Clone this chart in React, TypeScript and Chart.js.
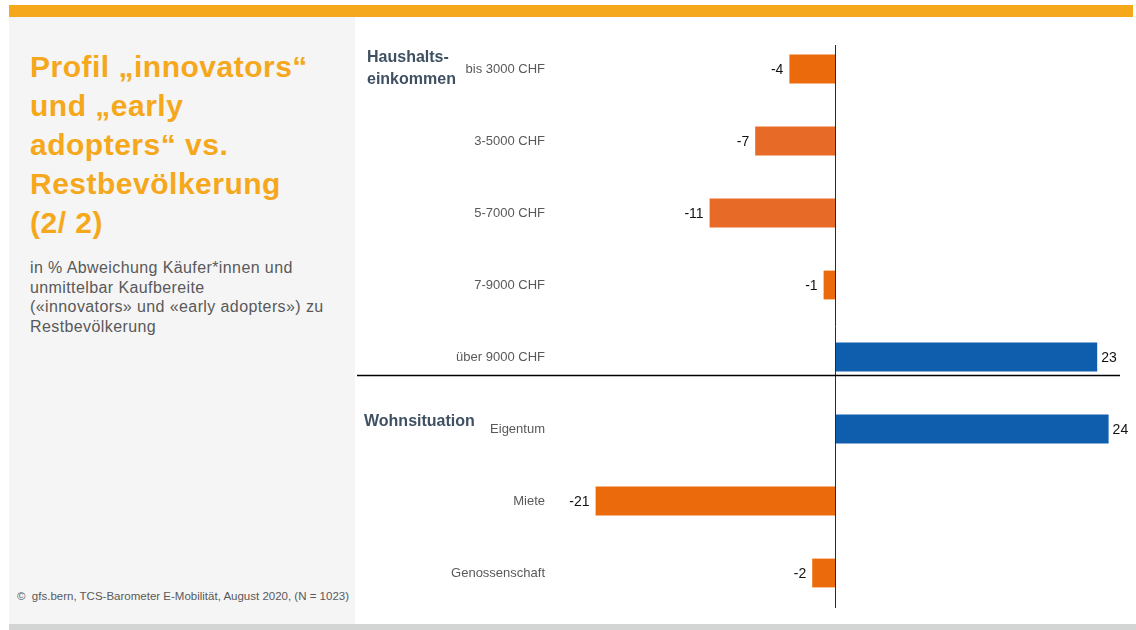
import React, { useEffect, useRef } from "react";
import { Chart, registerables } from "chart.js";

Chart.register(...registerables);

const categories = [
  "bis 3000 CHF",
  "3-5000 CHF",
  "5-7000 CHF",
  "7-9000 CHF",
  "über 9000 CHF",
  "Eigentum",
  "Miete",
  "Genossenschaft",
];
const values = [-4, -7, -11, -1, 23, 24, -21, -2];
const groupLabels = [["Haushalts-", "einkommen"], ["Wohnsituation"]];
const titleLines = ["Profil „innovators“", "und „early", "adopters“ vs.", "Restbevölkerung", "(2/ 2)"];
const subtitleLines = [
  "in % Abweichung Käufer*innen und",
  "unmittelbar Kaufbereite",
  "(«innovators» und «early adopters») zu",
  "Restbevölkerung",
];
const footer = "©  gfs.bern, TCS-Barometer E-Mobilität, August 2020, (N = 1023)";

const ORANGE = "#EB6B0C";
const ORANGE_LIGHT = "#E86A27";
const BLUE = "#0F5EAE";
const FONT = "'Liberation Sans', Arial, sans-serif";

const barColors = values.map((v, i) => (v >= 0 ? BLUE : i === 1 || i === 2 ? ORANGE_LIGHT : ORANGE));

const overlayPlugin = {
  id: "overlay",
  afterDatasetsDraw(chart: any) {
    const { ctx, chartArea, scales } = chart;
    const xs = scales.x;
    const ys = scales.y;
    ctx.save();
    // zero line
    const x0 = Math.round(xs.getPixelForValue(0)) + 0.5;
    ctx.strokeStyle = "#2a2a2a";
    ctx.lineWidth = 1;
    ctx.beginPath();
    ctx.moveTo(x0, chartArea.top + 12);
    ctx.lineTo(x0, chartArea.bottom - 1);
    ctx.stroke();
    // separator (just below the last income bar)
    const step = ys.getPixelForValue(5) - ys.getPixelForValue(4);
    const ySep = Math.round(ys.getPixelForValue(4) + step * 0.25) + 0.5;
    ctx.strokeStyle = "#000";
    ctx.lineWidth = 1.5;
    ctx.beginPath();
    ctx.moveTo(2, ySep);
    ctx.lineTo(chartArea.right, ySep);
    ctx.stroke();
    // value labels
    const meta = chart.getDatasetMeta(0);
    ctx.font = `14px ${FONT}`;
    ctx.fillStyle = "#111";
    ctx.textBaseline = "middle";
    meta.data.forEach((bar: any, i: number) => {
      const v = values[i];
      if (v < 0) {
        ctx.textAlign = "right";
        ctx.fillText(String(v), bar.x - 6, bar.y + 1);
      } else {
        ctx.textAlign = "left";
        ctx.fillText(String(v), bar.x + 4, bar.y + 1);
      }
    });
    // group labels
    ctx.font = `bold 16px ${FONT}`;
    ctx.fillStyle = "#3E5062";
    ctx.textAlign = "left";
    const g1y = ys.getPixelForValue(0);
    groupLabels[0].forEach((t, k) => ctx.fillText(t, 12, g1y - 11 + k * 22));
    const g2y = ys.getPixelForValue(5);
    groupLabels[1].forEach((t, k) => ctx.fillText(t, 9, g2y - 7 + k * 22));
    ctx.restore();
  },
};

export default function App() {
  const ref = useRef<HTMLCanvasElement | null>(null);
  useEffect(() => {
    if (!ref.current) return;
    const chart = new Chart(ref.current, {
      type: "bar",
      data: {
        labels: categories,
        datasets: [
          {
            data: values,
            backgroundColor: barColors,
            barPercentage: 0.4,
            categoryPercentage: 1.0,
          },
        ],
      },
      options: {
        indexAxis: "y",
        animation: false,
        responsive: false,
        maintainAspectRatio: false,
        layout: { padding: { top: 16, bottom: 15, left: 0, right: 16 } },
        plugins: { legend: { display: false }, tooltip: { enabled: false } },
        scales: {
          x: { min: -25, max: 25, display: false, grid: { display: false } },
          y: {
            grid: { display: false },
            border: { display: false },
            ticks: { color: "#595959", font: { size: 13, family: FONT }, padding: -3 },
            afterFit: (s: any) => {
              s.width = 195;
            },
          },
        },
      },
      plugins: [overlayPlugin],
    });
    return () => chart.destroy();
  }, []);

  return (
    <div style={{ position: "absolute", left: 0, top: 0, width: 1136, height: 630, background: "#fff", fontFamily: FONT, overflow: "hidden" }}>
      <div style={{ position: "absolute", left: 9, top: 5, width: 1124, height: 12, background: "#F5A81C" }} />
      <div style={{ position: "absolute", left: 9, top: 17, width: 346, height: 607, background: "#F5F5F5" }} />
      <div style={{ position: "absolute", left: 9, top: 624, width: 1127, height: 6, background: "#D3D4D4" }} />
      <div style={{ position: "absolute", left: 30, top: 47, color: "#F5A81C", fontWeight: "bold", fontSize: 30, lineHeight: "39px", letterSpacing: 0.5, whiteSpace: "nowrap" }}>
        {titleLines.map((t, i) => (
          <div key={i}>{t}</div>
        ))}
      </div>
      <div style={{ position: "absolute", left: 30, top: 258, color: "#595959", fontSize: 16, lineHeight: "19.7px", letterSpacing: 0.4, whiteSpace: "nowrap" }}>
        {subtitleLines.map((t, i) => (
          <div key={i}>{t}</div>
        ))}
      </div>
      <div style={{ position: "absolute", left: 17, top: 590, color: "#595959", fontSize: 11.5, whiteSpace: "pre" }}>{footer}</div>
      <canvas ref={ref} width={781} height={607} style={{ position: "absolute", left: 355, top: 17, width: 781, height: 607 }} />
    </div>
  );
}
